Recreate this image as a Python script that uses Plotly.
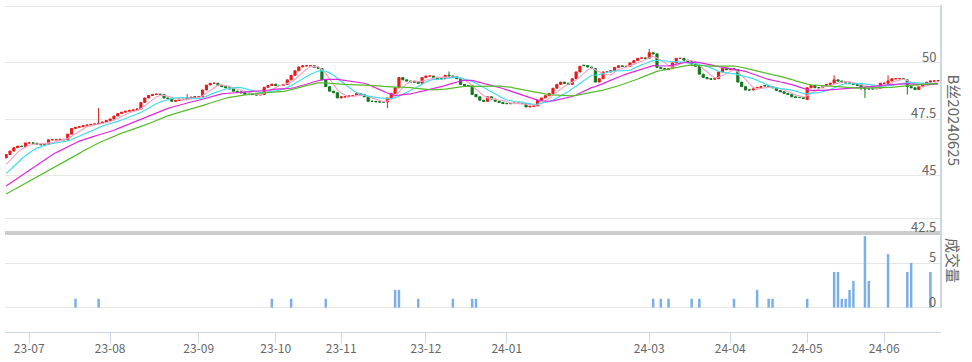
import pandas as pd
import plotly.graph_objects as go

# ---------------- data ----------------
holidays = ['2023-06-22', '2023-06-23', '2023-09-29', '2023-10-02', '2023-10-03', '2023-10-04',
            '2023-10-05', '2023-10-06', '2024-01-01', '2024-02-09', '2024-02-12', '2024-02-13',
            '2024-02-14', '2024-02-15', '2024-02-16', '2024-04-04', '2024-04-05', '2024-05-01',
            '2024-05-02', '2024-05-03', '2024-06-10']
dates = [d.strftime('%Y-%m-%d') for d in pd.bdate_range('2023-06-21', '2024-06-24')
         if d.strftime('%Y-%m-%d') not in holidays]

open_ = [
    45.80, 45.95, 46.10, 46.25, 46.32, 46.30, 46.46, 46.46, 46.45, 46.40,
    46.38, 46.40, 46.60, 46.60, 46.60, 46.62, 46.60, 46.85, 47.10, 47.15,
    47.18, 47.22, 47.25, 47.28, 47.30, 47.33, 47.38, 47.45, 47.52, 47.65,
    47.76, 47.82, 47.86, 47.90, 47.92, 47.96, 48.25, 48.45, 48.56, 48.60,
    48.62, 48.60, 48.45, 48.42, 48.30, 48.34, 48.40, 48.38, 48.45, 48.48,
    48.50, 48.50, 48.80, 49.02, 49.10, 49.10, 49.00, 48.95, 48.90, 48.85,
    48.75, 48.72, 48.68, 48.62, 48.60, 48.60, 48.58, 48.60, 48.92, 49.00,
    49.06, 49.00, 49.00, 49.05, 49.25, 49.45, 49.65, 49.82, 49.87, 49.87,
    49.88, 49.80, 49.75, 49.25, 48.95, 48.75, 48.68, 48.45, 48.50, 48.50,
    48.55, 48.55, 48.65, 48.60, 48.50, 48.30, 48.30, 48.28, 48.27, 48.27,
    48.45, 48.65, 48.90, 49.35, 49.25, 49.20, 49.15, 49.15, 49.10, 49.35,
    49.42, 49.42, 49.35, 49.30, 49.30, 49.45, 49.42, 49.40, 49.30, 49.05,
    49.00, 49.00, 48.60, 48.50, 48.35, 48.30, 48.50, 48.40, 48.30, 48.25,
    48.20, 48.20, 48.20, 48.22, 48.22, 48.20, 48.05, 48.08, 48.10, 48.35,
    48.45, 48.55, 48.65, 48.88, 49.05, 49.15, 49.10, 49.05, 49.30, 49.60,
    49.90, 49.88, 49.82, 49.75, 49.15, 49.30, 49.60, 49.60, 49.66, 49.80,
    49.87, 49.84, 49.85, 50.00, 50.10, 50.20, 50.22, 50.20, 50.45, 50.40,
    49.80, 49.75, 49.70, 49.75, 50.00, 50.20, 50.20, 50.12, 50.05, 49.95,
    49.85, 49.50, 49.35, 49.30, 49.28, 49.30, 49.60, 49.75, 49.70, 49.75,
    49.70, 49.15, 48.95, 48.80, 48.80, 48.85, 48.92, 49.00, 48.98, 48.95,
    48.90, 48.78, 48.72, 48.65, 48.60, 48.50, 48.47, 48.47, 48.38, 48.90,
    49.00, 48.90, 48.90, 49.00, 49.05, 49.10, 49.25, 49.20, 49.15, 49.12,
    49.10, 49.05, 49.05, 48.90, 48.85, 48.85, 48.85, 48.88, 49.10, 49.10,
    49.20, 49.30, 49.30, 49.30, 49.25, 48.95, 48.90, 48.82, 48.95, 49.05,
    49.15, 49.20, 49.20]

close = [
    45.95, 46.10, 46.25, 46.32, 46.30, 46.46, 46.46, 46.45, 46.40, 46.38,
    46.40, 46.60, 46.60, 46.60, 46.62, 46.60, 46.85, 47.10, 47.15, 47.18,
    47.22, 47.25, 47.28, 47.30, 47.33, 47.38, 47.45, 47.52, 47.65, 47.76,
    47.82, 47.86, 47.90, 47.92, 47.96, 48.25, 48.45, 48.56, 48.60, 48.62,
    48.60, 48.45, 48.42, 48.30, 48.34, 48.40, 48.38, 48.45, 48.48, 48.50,
    48.50, 48.80, 49.02, 49.10, 49.10, 49.00, 48.95, 48.90, 48.85, 48.75,
    48.72, 48.68, 48.62, 48.60, 48.60, 48.58, 48.60, 48.92, 49.00, 49.06,
    49.00, 49.00, 49.05, 49.25, 49.45, 49.65, 49.82, 49.87, 49.87, 49.88,
    49.80, 49.75, 49.25, 48.95, 48.75, 48.68, 48.45, 48.50, 48.50, 48.55,
    48.55, 48.65, 48.60, 48.50, 48.30, 48.30, 48.28, 48.27, 48.27, 48.45,
    48.65, 48.90, 49.35, 49.25, 49.20, 49.15, 49.15, 49.10, 49.35, 49.42,
    49.42, 49.35, 49.30, 49.30, 49.45, 49.42, 49.40, 49.30, 49.05, 49.00,
    49.00, 48.60, 48.50, 48.35, 48.30, 48.50, 48.40, 48.30, 48.25, 48.20,
    48.20, 48.20, 48.22, 48.22, 48.20, 48.05, 48.08, 48.10, 48.35, 48.45,
    48.55, 48.65, 48.88, 49.05, 49.15, 49.10, 49.05, 49.30, 49.60, 49.85,
    49.88, 49.82, 49.75, 49.15, 49.30, 49.60, 49.60, 49.66, 49.80, 49.87,
    49.84, 49.85, 50.00, 50.10, 50.20, 50.22, 50.20, 50.45, 50.40, 49.80,
    49.75, 49.70, 49.75, 50.00, 50.20, 50.20, 50.12, 50.05, 49.95, 49.85,
    49.50, 49.35, 49.30, 49.28, 49.30, 49.60, 49.75, 49.70, 49.75, 49.70,
    49.15, 48.95, 48.80, 48.80, 48.85, 48.92, 48.95, 48.98, 48.95, 48.90,
    48.78, 48.72, 48.65, 48.60, 48.50, 48.47, 48.47, 48.42, 48.90, 49.00,
    48.90, 48.90, 49.00, 49.05, 49.10, 49.25, 49.20, 49.15, 49.12, 49.10,
    49.05, 49.00, 48.90, 48.85, 48.85, 48.85, 48.88, 49.10, 49.10, 49.20,
    49.30, 49.30, 49.30, 49.28, 48.95, 48.90, 48.82, 48.95, 49.05, 49.15,
    49.20, 49.20, 49.22]

# visible shadows (day index -> price); other days have no visible wick
upper_wick_day = [24, 47, 115, 167, 215, 229]
upper_wick_val = [48.00, 48.62, 49.62, 50.62, 49.45, 49.45]
lower_wick_day = [99, 222, 223, 234]
lower_wick_val = [48.00, 48.80, 48.45, 48.60]

# closes before the visible window (only feed the moving averages)
pre_close = [43.3, 43.4, 43.5, 43.4, 43.6, 43.5, 43.6, 43.5, 43.6, 43.6,
             43.8, 43.9, 43.9, 44.0, 44.0, 44.1, 44.0, 44.1, 44.1, 44.1,
             44.4, 44.6, 44.7, 44.8, 45.0, 45.2, 45.3, 45.5, 45.6]

vol_day = [18, 24, 69, 74, 83, 101, 102, 107, 116, 121, 122, 168, 170, 172, 178, 180, 189,
           195, 198, 199, 208, 215, 216, 217, 218, 219, 220, 223, 224, 229, 234, 235, 240]
vol_val = [1, 1, 1, 1, 1, 2, 2, 1, 1, 1, 1, 1, 1, 1, 1, 1, 1,
           2, 1, 1, 1, 4, 4, 1, 1, 2, 3, 8, 3, 6, 4, 5, 4]

tick_dates = ['2023-07-03', '2023-08-01', '2023-09-01', '2023-10-09', '2023-11-01', '2023-12-01',
              '2024-01-02', '2024-03-01', '2024-04-01', '2024-05-06', '2024-06-03']
tick_text = ['23-07', '23-08', '23-09', '23-10', '23-11', '23-12',
             '24-01', '24-03', '24-04', '24-05', '24-06']
price_ticks = [50, 47.5, 45, 42.5]
vol_ticks = [5, 0]
ma_periods = [5, 10, 20, 30]
ma_colors = ['#f4a6c8', '#44dcec', '#dc28dc', '#55bb2a']

# ---------------- derived ----------------
high = [max(o, c) for o, c in zip(open_, close)]
low = [min(o, c) for o, c in zip(open_, close)]
for d, v in zip(upper_wick_day, upper_wick_val):
    high[d] = v
for d, v in zip(lower_wick_day, lower_wick_val):
    low[d] = v
volume = [0] * len(dates)
for d, v in zip(vol_day, vol_val):
    volume[d] = v

full = pd.Series(pre_close + close)
n_pre = len(pre_close)

fig = go.Figure()

for p, col in zip(ma_periods, ma_colors):
    ma = full.rolling(p).mean().iloc[n_pre:].tolist()
    fig.add_trace(go.Scatter(x=dates, y=ma, mode='lines', line=dict(color=col, width=1.2),
                             hoverinfo='skip', showlegend=False, xaxis='x', yaxis='y'))

fig.add_trace(go.Candlestick(
    x=dates, open=open_, high=high, low=low, close=close,
    increasing=dict(line=dict(color='#e51c1c', width=1), fillcolor='#e51c1c'),
    decreasing=dict(line=dict(color='#12781e', width=1), fillcolor='#12781e'),
    whiskerwidth=0, showlegend=False, xaxis='x', yaxis='y'))

fig.add_trace(go.Bar(x=dates, y=volume, marker=dict(color='#7cb0e4', line=dict(width=0)),
                     width=0.65, showlegend=False, xaxis='x', yaxis='y2'))

# ---------------- layout ----------------
W, H = 972, 362
L, R, T, B = 5, 31, 5, 30
ph = H - T - B


def py(pix):
    return (H - B - pix) / ph


main_dom = [py(232.5), 1.0]
vol_dom = [0.0, py(217)]

fig.update_layout(
    width=W, height=H,
    margin=dict(l=L, r=R, t=T, b=B, pad=0, autoexpand=False),
    paper_bgcolor='white', plot_bgcolor='white',
    boxgap=0.2,
    font=dict(family='Noto Sans CJK SC, Noto Sans, sans-serif', color='#666666'),
    xaxis=dict(type='category', categoryorder='array', categoryarray=dates,
               range=[-0.3, len(dates) - 0.25],
               rangeslider=dict(visible=False), anchor='y2',
               showgrid=False, showline=True, linecolor='#ccd6eb', linewidth=1,
               ticks='outside', ticklen=10, tickcolor='#ccd6eb', tickwidth=1,
               tickvals=tick_dates, ticktext=tick_text, ticklabelstandoff=-4,
               tickfont=dict(size=12, color='#666666'), zeroline=False),
    yaxis=dict(domain=main_dom, range=[42.5, 52.56], side='right', dtick=2.5, tick0=0,
               showgrid=True, gridcolor='#e6e6e6', gridwidth=1, showticklabels=False,
               zeroline=False, showline=False, anchor='x'),
    yaxis2=dict(domain=vol_dom, range=[-2.72, 10.15], side='right', dtick=5, tick0=0,
                showgrid=True, gridcolor='#e6e6e6', gridwidth=1, showticklabels=False,
                zeroline=False, showline=False, anchor='x'),
    shapes=[
        dict(type='rect', xref='paper', yref='paper', x0=0, x1=1, y0=py(235), y1=py(231),
             fillcolor='#cccccc', line=dict(width=0), layer='above'),
        dict(type='line', xref='paper', yref='paper', x0=1, x1=1, y0=py(308), y1=py(5),
             line=dict(color='#ccd6eb', width=2), layer='above'),
    ],
)

ann = []
for v in price_ticks:
    ann.append(dict(x=1, xref='paper', y=v, yref='y', text=str(v), showarrow=False,
                    xanchor='right', yanchor='bottom', xshift=-3, yshift=-5,
                    font=dict(size=13, color='#666666')))
for v in vol_ticks:
    ann.append(dict(x=1, xref='paper', y=v, yref='y2', text=str(v), showarrow=False,
                    xanchor='right', yanchor='bottom', xshift=-3, yshift=-5,
                    font=dict(size=13, color='#666666')))
ann.append(dict(x=1, xref='paper', y=py(119.5), yref='paper', text='B丝20240625', showarrow=False,
                textangle=90, xanchor='center', yanchor='middle', xshift=13,
                font=dict(size=15, color='#666666')))
ann.append(dict(x=1, xref='paper', y=py(260), yref='paper', text='成交量', showarrow=False,
                textangle=90, xanchor='center', yanchor='middle', xshift=13,
                font=dict(size=15, color='#666666')))
fig.update_layout(annotations=ann)

fig.write_html('out.html', config={'displayModeBar': False},
               post_script="document.body.style.margin='0';document.body.style.overflow='hidden';")
